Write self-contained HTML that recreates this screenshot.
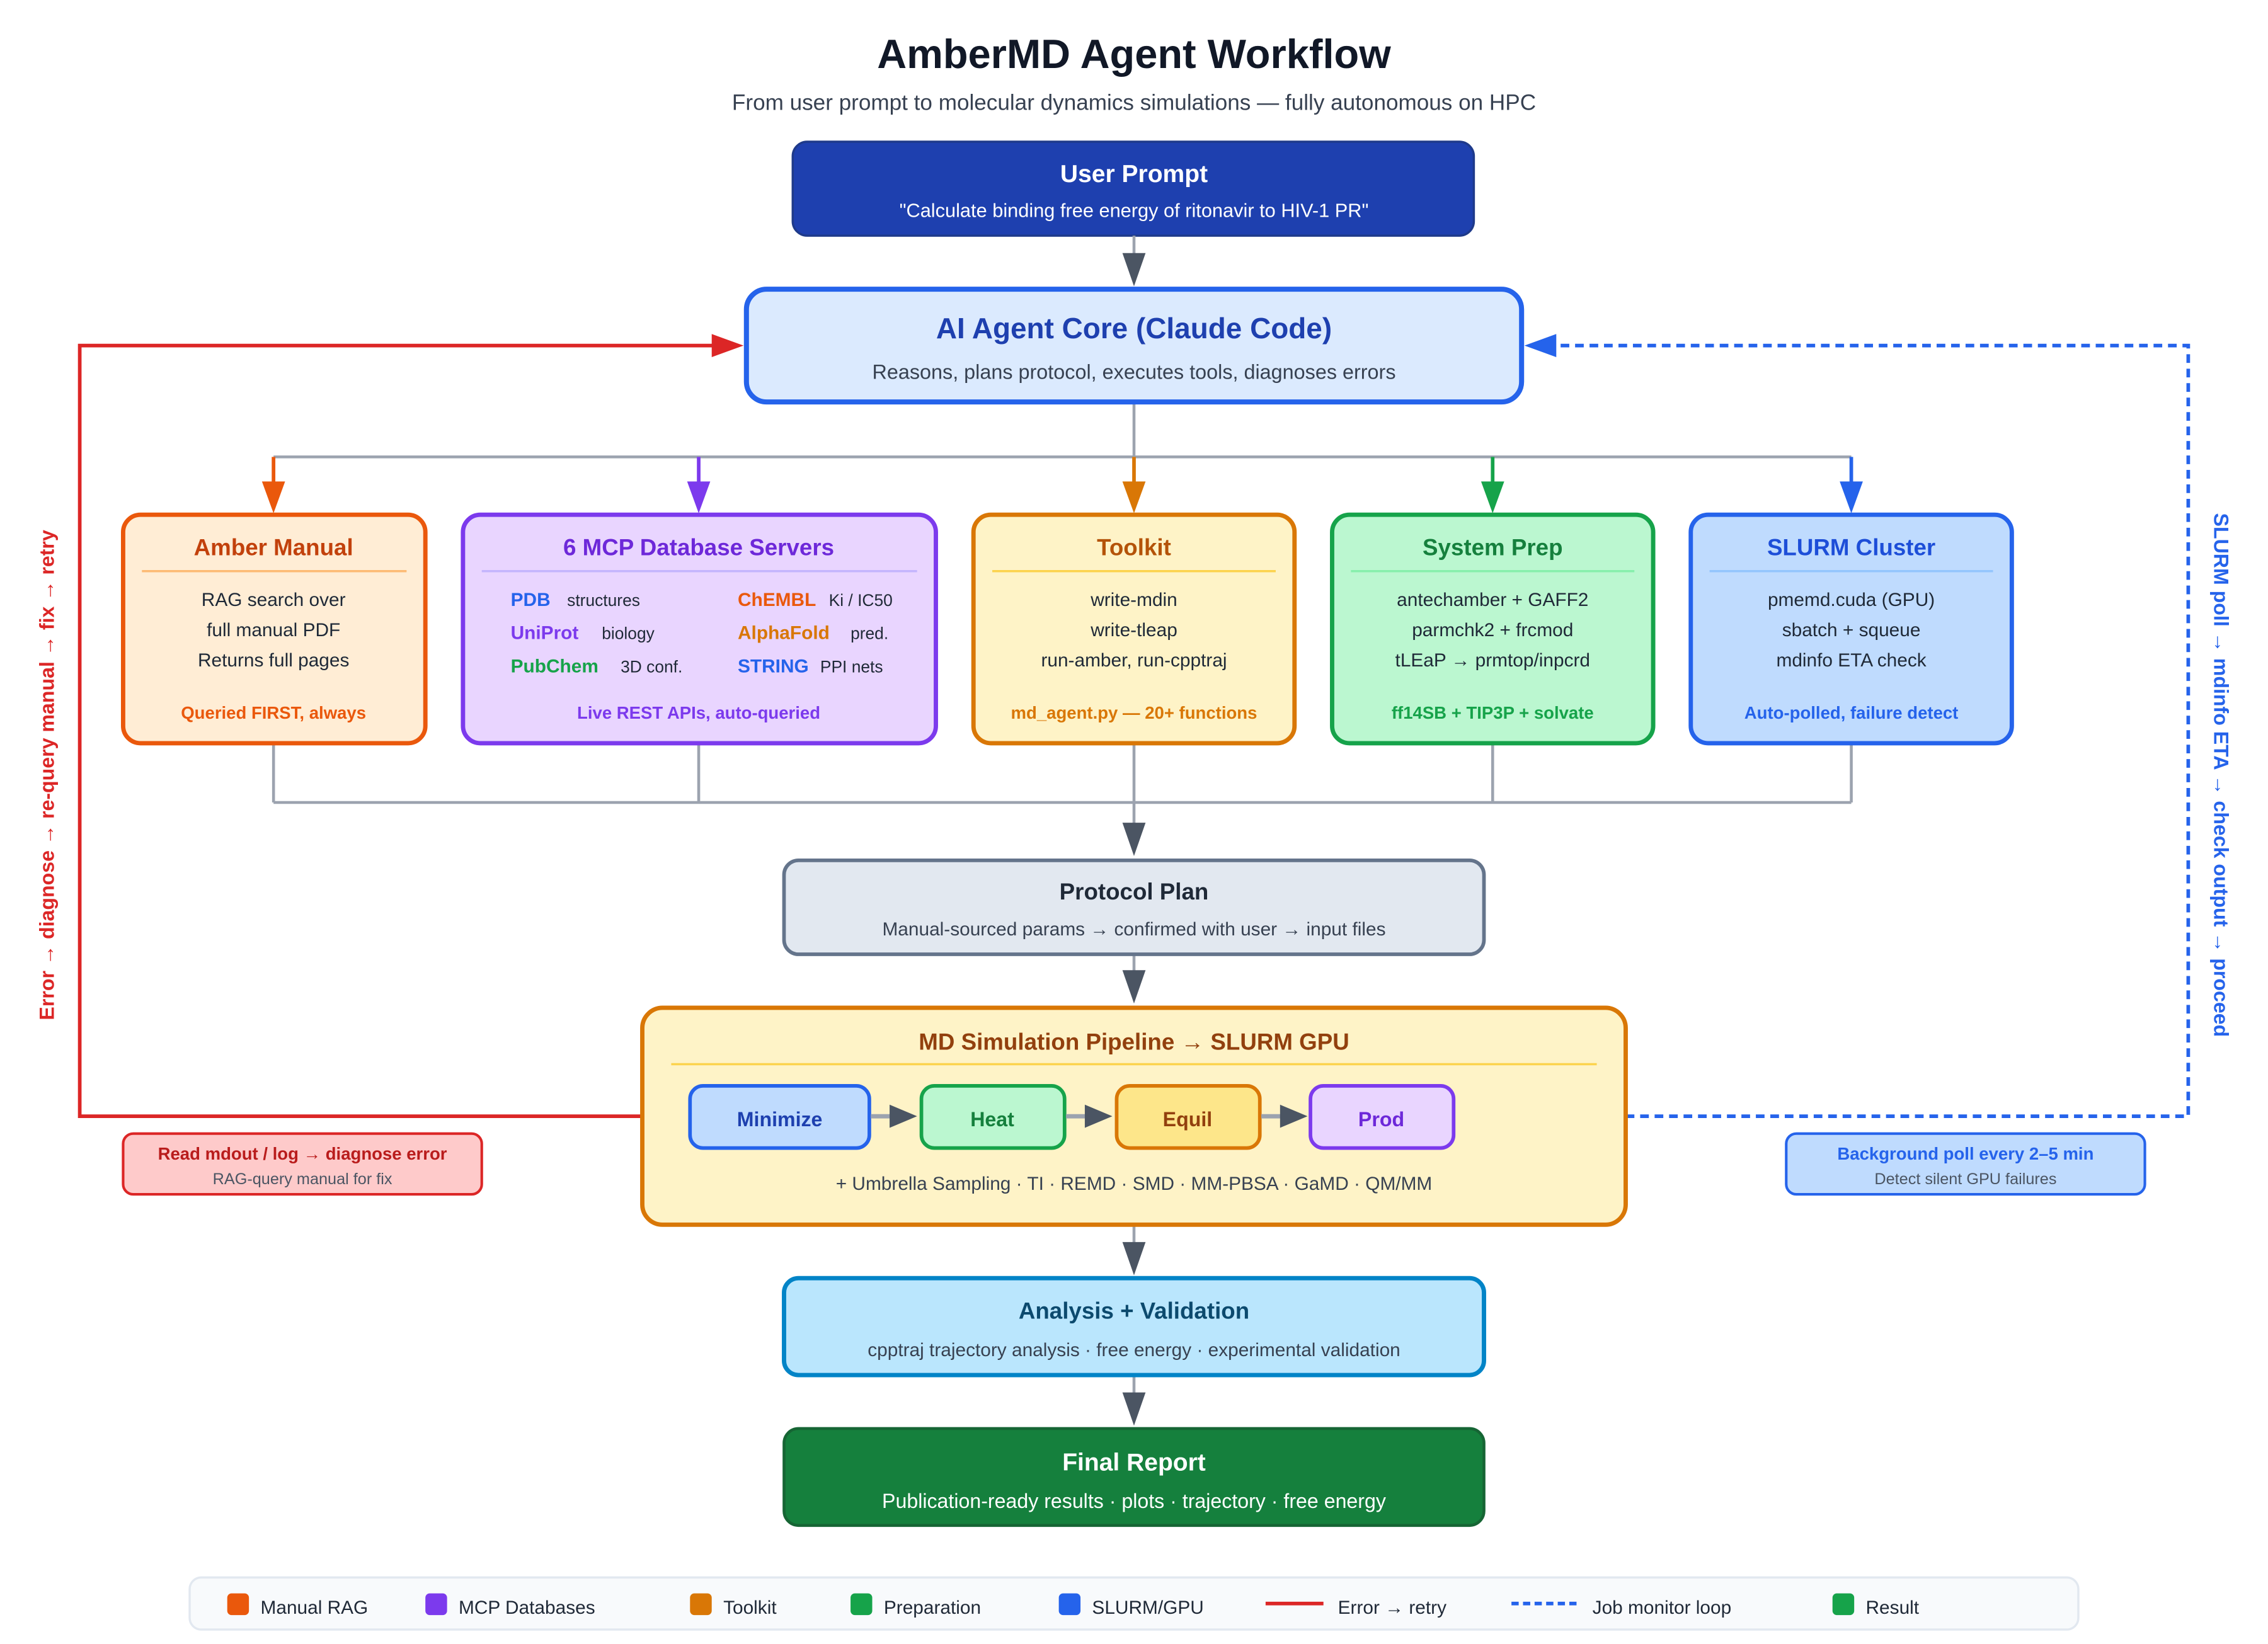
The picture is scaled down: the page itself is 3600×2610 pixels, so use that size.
<!DOCTYPE html>
<html><head><meta charset="utf-8"><style>
html,body{margin:0;padding:0;background:#fff;}
svg{display:block;}
text{font-family:"Liberation Sans",sans-serif;}
</style></head><body>
<svg width="3600" height="2610" viewBox="0 0 1568 1137" xmlns="http://www.w3.org/2000/svg">
<rect width="1568" height="1137" fill="#fff"/>
<text x="784" y="47" text-anchor="middle" font-size="28.3" font-weight="bold" fill="#111827">AmberMD Agent Workflow</text>
<text x="784" y="76" text-anchor="middle" font-size="15.3" fill="#374151">From user prompt to molecular dynamics simulations — fully autonomous on HPC</text>

<rect x="548" y="98" width="471" height="65" rx="10" fill="#1e40af" stroke="#1e3a8a" stroke-width="1.5"/>
<text x="784" y="126" text-anchor="middle" font-size="17" font-weight="bold" fill="#fff">User Prompt</text>
<text x="784" y="150" text-anchor="middle" font-size="13.4" fill="#fff">"Calculate binding free energy of ritonavir to HIV-1 PR"</text>

<g stroke="#9ca3af" stroke-width="2" fill="none">
<line x1="784" y1="163" x2="784" y2="178"/>
<line x1="784" y1="278" x2="784" y2="316"/>
<line x1="189" y1="316" x2="1280" y2="316"/>
<line x1="189" y1="514" x2="189" y2="555"/>
<line x1="483" y1="514" x2="483" y2="555"/>
<line x1="784" y1="514" x2="784" y2="570"/>
<line x1="1032" y1="514" x2="1032" y2="555"/>
<line x1="1280" y1="514" x2="1280" y2="555"/>
<line x1="189" y1="555" x2="1280" y2="555"/>
<line x1="784" y1="660" x2="784" y2="672"/>
<line x1="784" y1="847" x2="784" y2="860"/>
<line x1="784" y1="951" x2="784" y2="964"/>
</g>
<g fill="#4b5563">
<polygon points="776,175 792,175 784,198"/>
<polygon points="776,569 792,569 784,592"/>
<polygon points="776,671 792,671 784,694"/>
<polygon points="776,859 792,859 784,882"/>
<polygon points="776,963 792,963 784,986"/>
</g>
<g stroke-width="2.5">
<line x1="189" y1="316" x2="189" y2="336" stroke="#ea580c"/><polygon points="181,333 197,333 189,355" fill="#ea580c"/>
<line x1="483" y1="316" x2="483" y2="336" stroke="#7c3aed"/><polygon points="475,333 491,333 483,355" fill="#7c3aed"/>
<line x1="784" y1="316" x2="784" y2="336" stroke="#d97706"/><polygon points="776,333 792,333 784,355" fill="#d97706"/>
<line x1="1032" y1="316" x2="1032" y2="336" stroke="#16a34a"/><polygon points="1024,333 1040,333 1032,355" fill="#16a34a"/>
<line x1="1280" y1="316" x2="1280" y2="336" stroke="#2563eb"/><polygon points="1272,333 1288,333 1280,355" fill="#2563eb"/>
</g>

<rect x="516" y="200" width="536" height="78" rx="14" fill="#dbeafe" stroke="#2563eb" stroke-width="3.5"/>
<text x="784" y="234" text-anchor="middle" font-size="20" font-weight="bold" fill="#1e40af">AI Agent Core (Claude Code)</text>
<text x="784" y="262" text-anchor="middle" font-size="14.1" fill="#374151">Reasons, plans protocol, executes tools, diagnoses errors</text>

<polyline points="444,772 55,772 55,239 496,239" fill="none" stroke="#dc2626" stroke-width="2.5"/>
<polygon points="492,231 492,247 514,239" fill="#dc2626"/>
<text transform="translate(37,536) rotate(-90)" text-anchor="middle" font-size="14" font-weight="bold" fill="#dc2626">Error → diagnose → re-query manual → fix → retry</text>
<polyline points="1124,772 1513,772 1513,239 1072,239" fill="none" stroke="#2563eb" stroke-width="2.5" stroke-dasharray="6,4"/>
<polygon points="1076,231 1076,247 1054,239" fill="#2563eb"/>
<text transform="translate(1531,536) rotate(90)" text-anchor="middle" font-size="14" font-weight="bold" fill="#2563eb">SLURM poll → mdinfo ETA → check output → proceed</text>

<g font-size="13" text-anchor="middle">
<rect x="85" y="356" width="209" height="158" rx="12" fill="#ffedd5" stroke="#ea580c" stroke-width="3"/>
<text x="189" y="384" font-size="16" font-weight="bold" fill="#c2410c">Amber Manual</text>
<line x1="98" y1="395" x2="281" y2="395" stroke="#fdba74" stroke-width="1.5"/>
<text x="189" y="419" fill="#1f2937">RAG search over</text>
<text x="189" y="440" fill="#1f2937">full manual PDF</text>
<text x="189" y="461" fill="#1f2937">Returns full pages</text>
<text x="189" y="497" font-size="12" font-weight="bold" fill="#ea580c">Queried FIRST, always</text>

<rect x="320" y="356" width="327" height="158" rx="12" fill="#e9d5ff" stroke="#7c3aed" stroke-width="3"/>
<text x="483" y="384" font-size="16" font-weight="bold" fill="#6d28d9">6 MCP Database Servers</text>
<line x1="333" y1="395" x2="634" y2="395" stroke="#c4b5fd" stroke-width="1.5"/>
<g text-anchor="start">
<text x="353" y="419" font-weight="bold" fill="#2563eb">PDB</text><text x="392" y="419" font-size="11.5" fill="#1f2937">structures</text>
<text x="353" y="442" font-weight="bold" fill="#7c3aed">UniProt</text><text x="416" y="442" font-size="11.5" fill="#1f2937">biology</text>
<text x="353" y="465" font-weight="bold" fill="#16a34a">PubChem</text><text x="429" y="465" font-size="11.5" fill="#1f2937">3D conf.</text>
<text x="510" y="419" font-weight="bold" fill="#ea580c">ChEMBL</text><text x="573" y="419" font-size="11.5" fill="#1f2937">Ki / IC50</text>
<text x="510" y="442" font-weight="bold" fill="#d97706">AlphaFold</text><text x="588" y="442" font-size="11.5" fill="#1f2937">pred.</text>
<text x="510" y="465" font-weight="bold" fill="#2563eb">STRING</text><text x="567" y="465" font-size="11.5" fill="#1f2937">PPI nets</text>
</g>
<text x="483" y="497" font-size="12" font-weight="bold" fill="#7c3aed">Live REST APIs, auto-queried</text>

<rect x="673" y="356" width="222" height="158" rx="12" fill="#fef3c7" stroke="#d97706" stroke-width="3"/>
<text x="784" y="384" font-size="16" font-weight="bold" fill="#b45309">Toolkit</text>
<line x1="686" y1="395" x2="882" y2="395" stroke="#fcd34d" stroke-width="1.5"/>
<text x="784" y="419" fill="#1f2937">write-mdin</text>
<text x="784" y="440" fill="#1f2937">write-tleap</text>
<text x="784" y="461" fill="#1f2937">run-amber, run-cpptraj</text>
<text x="784" y="497" font-size="12" font-weight="bold" fill="#d97706">md_agent.py — 20+ functions</text>

<rect x="921" y="356" width="222" height="158" rx="12" fill="#bbf7d0" stroke="#16a34a" stroke-width="3"/>
<text x="1032" y="384" font-size="16" font-weight="bold" fill="#15803d">System Prep</text>
<line x1="934" y1="395" x2="1130" y2="395" stroke="#86efac" stroke-width="1.5"/>
<text x="1032" y="419" fill="#1f2937">antechamber + GAFF2</text>
<text x="1032" y="440" fill="#1f2937">parmchk2 + frcmod</text>
<text x="1032" y="461" fill="#1f2937">tLEaP → prmtop/inpcrd</text>
<text x="1032" y="497" font-size="12" font-weight="bold" fill="#16a34a">ff14SB + TIP3P + solvate</text>

<rect x="1169" y="356" width="222" height="158" rx="12" fill="#bfdbfe" stroke="#2563eb" stroke-width="3"/>
<text x="1280" y="384" font-size="16" font-weight="bold" fill="#1d4ed8">SLURM Cluster</text>
<line x1="1182" y1="395" x2="1378" y2="395" stroke="#93c5fd" stroke-width="1.5"/>
<text x="1280" y="419" fill="#1f2937">pmemd.cuda (GPU)</text>
<text x="1280" y="440" fill="#1f2937">sbatch + squeue</text>
<text x="1280" y="461" fill="#1f2937">mdinfo ETA check</text>
<text x="1280" y="497" font-size="12" font-weight="bold" fill="#2563eb">Auto-polled, failure detect</text>
</g>

<rect x="542" y="595" width="484" height="65" rx="10" fill="#e2e8f0" stroke="#64748b" stroke-width="2.5"/>
<text x="784" y="622" text-anchor="middle" font-size="16" font-weight="bold" fill="#1f2937">Protocol Plan</text>
<text x="784" y="647" text-anchor="middle" font-size="13" fill="#374151">Manual-sourced params → confirmed with user → input files</text>

<rect x="444" y="697" width="680" height="150" rx="14" fill="#fef3c7" stroke="#d97706" stroke-width="3"/>
<text x="784" y="726" text-anchor="middle" font-size="16" font-weight="bold" fill="#92400e">MD Simulation Pipeline → SLURM GPU</text>
<line x1="464" y1="736" x2="1104" y2="736" stroke="#fcd34d" stroke-width="1.5"/>
<g font-size="14" font-weight="bold" text-anchor="middle">
<rect x="477" y="751" width="124" height="43" rx="9" fill="#bfdbfe" stroke="#2563eb" stroke-width="2.5"/>
<text x="539" y="779" fill="#1e40af">Minimize</text>
<rect x="637" y="751" width="99" height="43" rx="9" fill="#bbf7d0" stroke="#16a34a" stroke-width="2.5"/>
<text x="686" y="779" fill="#15803d">Heat</text>
<rect x="772" y="751" width="99" height="43" rx="9" fill="#fde68a" stroke="#d97706" stroke-width="2.5"/>
<text x="821" y="779" fill="#92400e">Equil</text>
<rect x="906" y="751" width="99" height="43" rx="9" fill="#e9d5ff" stroke="#7c3aed" stroke-width="2.5"/>
<text x="955" y="779" fill="#6d28d9">Prod</text>
</g>
<g stroke="#9ca3af" stroke-width="3">
<line x1="602" y1="772" x2="618" y2="772"/><line x1="737" y1="772" x2="752" y2="772"/><line x1="872" y1="772" x2="887" y2="772"/>
</g>
<g fill="#4b5563">
<polygon points="615,764 615,780 634,772"/><polygon points="750,764 750,780 769,772"/><polygon points="885,764 885,780 904,772"/>
</g>
<text x="784" y="823" text-anchor="middle" font-size="13" fill="#374151">+ Umbrella Sampling · TI · REMD · SMD · MM-PBSA · GaMD · QM/MM</text>

<rect x="85" y="784" width="248" height="42" rx="7" fill="#fecaca" stroke="#dc2626" stroke-width="1.8"/>
<text x="209" y="802" text-anchor="middle" font-size="12" font-weight="bold" fill="#b91c1c">Read mdout / log → diagnose error</text>
<text x="209" y="819" text-anchor="middle" font-size="11" fill="#4b5563">RAG-query manual for fix</text>
<rect x="1235" y="784" width="248" height="42" rx="7" fill="#bfdbfe" stroke="#2563eb" stroke-width="1.8"/>
<text x="1359" y="802" text-anchor="middle" font-size="12" font-weight="bold" fill="#2563eb">Background poll every 2–5 min</text>
<text x="1359" y="819" text-anchor="middle" font-size="11" fill="#4b5563">Detect silent GPU failures</text>

<rect x="542" y="884" width="484" height="67" rx="10" fill="#bae6fd" stroke="#0284c7" stroke-width="3"/>
<text x="784" y="912" text-anchor="middle" font-size="16" font-weight="bold" fill="#0c4a6e">Analysis + Validation</text>
<text x="784" y="938" text-anchor="middle" font-size="13" fill="#374151">cpptraj trajectory analysis · free energy · experimental validation</text>

<rect x="542" y="988" width="484" height="67" rx="10" fill="#15803d" stroke="#166534" stroke-width="2"/>
<text x="784" y="1017" text-anchor="middle" font-size="17" font-weight="bold" fill="#fff">Final Report</text>
<text x="784" y="1043" text-anchor="middle" font-size="14" fill="#fff">Publication-ready results · plots · trajectory · free energy</text>

<rect x="131" y="1091" width="1306" height="36" rx="8" fill="#f8fafc" stroke="#e2e8f0" stroke-width="1.5"/>
<g font-size="13" fill="#1f2937">
<rect x="157" y="1102" width="15" height="15" rx="3" fill="#ea580c"/><text x="180" y="1116">Manual RAG</text>
<rect x="294" y="1102" width="15" height="15" rx="3" fill="#7c3aed"/><text x="317" y="1116">MCP Databases</text>
<rect x="477" y="1102" width="15" height="15" rx="3" fill="#d97706"/><text x="500" y="1116">Toolkit</text>
<rect x="588" y="1102" width="15" height="15" rx="3" fill="#16a34a"/><text x="611" y="1116">Preparation</text>
<rect x="732" y="1102" width="15" height="15" rx="3" fill="#2563eb"/><text x="755" y="1116">SLURM/GPU</text>
<line x1="875" y1="1109" x2="915" y2="1109" stroke="#dc2626" stroke-width="2.5"/><text x="925" y="1116">Error → retry</text>
<line x1="1045" y1="1109" x2="1091" y2="1109" stroke="#2563eb" stroke-width="2.5" stroke-dasharray="5,3"/><text x="1101" y="1116">Job monitor loop</text>
<rect x="1267" y="1102" width="15" height="15" rx="3" fill="#16a34a"/><text x="1290" y="1116">Result</text>
</g>
</svg>
</body></html>
